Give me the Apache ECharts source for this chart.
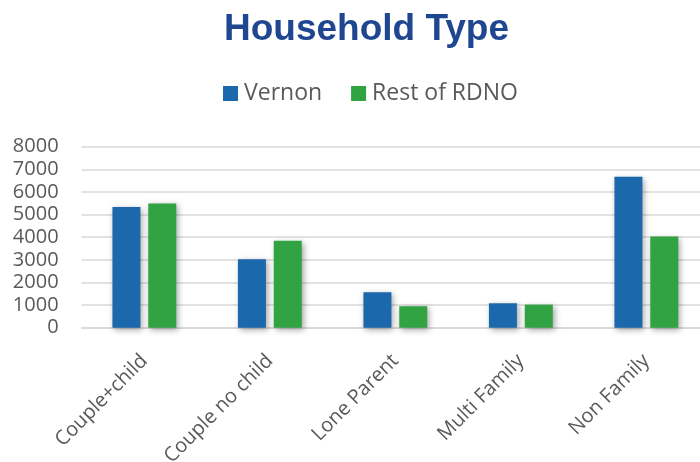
<!DOCTYPE html>
<html>
<head>
<meta charset="utf-8">
<script src="https://cdn.jsdelivr.net/npm/echarts@6/dist/echarts.min.js"></script>
<style>html,body{margin:0;padding:0;background:#fff;}#wrap{width:700px;height:462px;overflow:hidden;position:relative;}#c{width:710px;height:462px;position:absolute;left:0;top:0;}</style>
</head>
<body>
<div id="wrap"><div id="c"></div></div>
<script>
const categories = ['Couple+child', 'Couple no child', 'Lone Parent', 'Multi Family', 'Non Family'];
const vernon = [5330, 3030, 1570, 1080, 6670];
const restOfRDNO = [5490, 3840, 950, 1020, 4030];
const yTicks = [0, 1000, 2000, 3000, 4000, 5000, 6000, 7000, 8000];

const chart = echarts.init(document.getElementById('c'), null, {renderer: 'canvas'});
const shadow = {shadowBlur: 6, shadowColor: 'rgba(0,0,0,0.35)', shadowOffsetX: 2, shadowOffsetY: 2};
chart.setOption({
  animation: false,
  backgroundColor: '#fff',
  title: {
    text: 'Household Type',
    left: 224, top: 11, padding: 0,
    textStyle: {fontFamily: 'Liberation Sans', fontWeight: 'bold', fontSize: 37, color: '#1F4690'}
  },
  legend: {
    left: 223, top: 82, padding: 0,
    icon: 'rect', itemWidth: 15, itemHeight: 15, itemGap: 29,
    textStyle: {fontFamily: 'Open Sans', fontSize: 23, color: '#595959', padding: [0, 0, 0, 1]},
    data: ['Vernon', 'Rest of RDNO']
  },
  grid: {left: 81.6, width: 627.5, top: 146.7, height: 181, containLabel: false, outerBoundsMode: 'none'},
  xAxis: {
    type: 'category', data: categories,
    axisLine: {show: true, lineStyle: {color: '#D9D9D9', width: 1.5}},
    axisTick: {show: false},
    axisLabel: {rotate: 45, margin: 30, interval: 0, fontFamily: 'Open Sans', fontSize: 20, color: '#595959'}
  },
  yAxis: {
    type: 'value', min: yTicks[0], max: yTicks[yTicks.length - 1], interval: 1000,
    axisLine: {show: false}, axisTick: {show: false},
    axisLabel: {margin: 23, fontFamily: 'Open Sans', fontSize: 20, color: '#595959', formatter: v => String(v)},
    splitLine: {lineStyle: {color: '#D9D9D9', width: 1.5}}
  },
  series: [
    {name: 'Vernon', type: 'bar', data: vernon, barWidth: 28, barGap: '28%',
     itemStyle: Object.assign({color: '#1B69AC'}, shadow)},
    {name: 'Rest of RDNO', type: 'bar', data: restOfRDNO, barWidth: 28, barGap: '28%',
     itemStyle: Object.assign({color: '#31A343'}, shadow)}
  ]
});
</script>
</body>
</html>
